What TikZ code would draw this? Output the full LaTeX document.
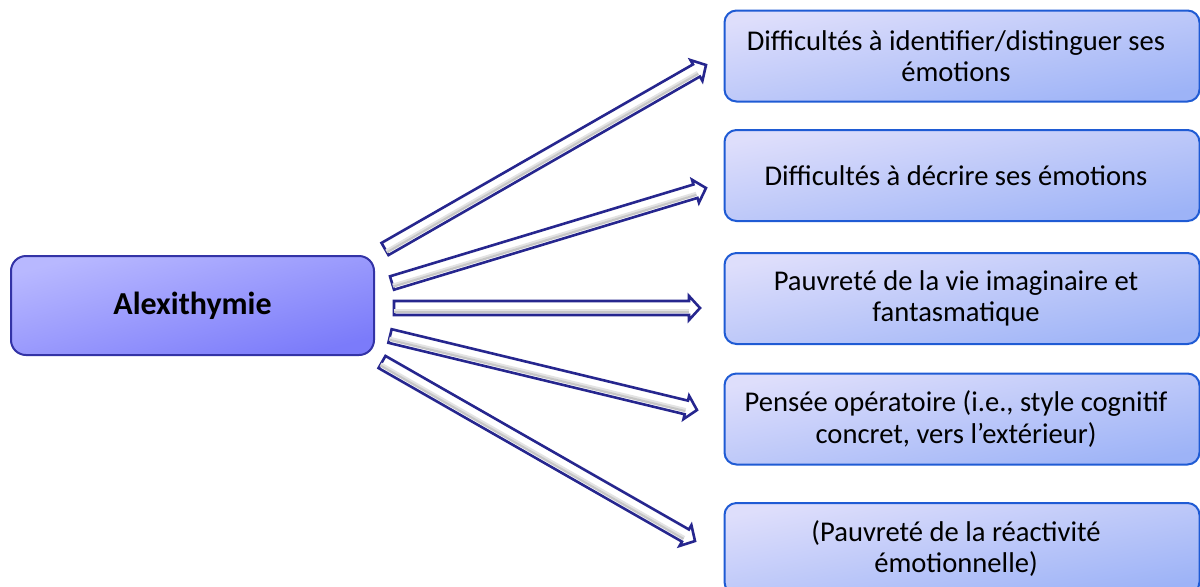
\documentclass[tikz,border=0pt]{standalone}
\usepackage{fontspec}
\setmainfont{Carlito}
\usetikzlibrary{calc}
\definecolor{leftA}{HTML}{B8B8FF}
\definecolor{leftB}{HTML}{7B7BFA}
\definecolor{leftBorder}{HTML}{3333A6}
\definecolor{boxA}{HTML}{DEDEFB}
\definecolor{boxB}{HTML}{9DB3F7}
\definecolor{boxBorder}{HTML}{1F5BD4}
\definecolor{arrNavy}{HTML}{26268E}
\newcommand{\rpad}{\hspace*{6pt}}
\newcommand{\blockarrow}[2]{%
  \coordinate (bA) at ($(#2)!5.5pt!(#1)$);
  \draw[arrowbody] ($(#1)!3.5pt!90:(#2)$) -- ($(bA)!3.5pt!90:(#2)$) -- ($(bA)!6pt!90:(#2)$) -- (#2) -- ($(bA)!6pt!-90:(#2)$) -- ($(bA)!3.5pt!-90:(#2)$) -- ($(#1)!3.5pt!-90:(#2)$) -- cycle;
  \draw[gray!22, line width=1.1pt] ($(#1)!0.9pt!-90:(#2)$) -- ($(bA)!0.9pt!-90:(#2)$);
  \draw[gray!45, line width=1.1pt] ($(#1)!1.9pt!-90:(#2)$) -- ($(bA)!1.9pt!-90:(#2)$);
}
\begin{document}
\begin{tikzpicture}[x=0.5pt,y=-0.5pt,
  mainbox/.style={rounded corners=7.5pt, draw=leftBorder, line width=1pt,
    top color=leftA, bottom color=leftB, shading angle=15,
    minimum width=181.5pt, minimum height=49.5pt, inner sep=0pt,
    font=\fontsize{16}{19}\selectfont\bfseries},
  itembox/.style={rounded corners=6pt, draw=boxBorder, line width=1pt,
    top color=boxA, bottom color=boxB, shading angle=11,
    minimum width=237.5pt, minimum height=45.5pt, inner sep=0pt,
    align=center, font=\fontsize{14.3}{15.6}\selectfont},
  arrowbody/.style={draw=arrNavy, line width=1.3pt, fill=white, line join=miter},
]
\useasboundingbox (0,0) rectangle (1200,586);
\clip (0,0) rectangle (1200,586);

\node[mainbox] (alex) at (192.5,305.5) {Alexithymie};

\node[itembox] (d1) at (962,56) {Difficultés à identifier/distinguer ses\rpad\\émotions\rpad};
\node[itembox] (d2) at (962,175.5) {Difficultés à décrire ses émotions\rpad};
\node[itembox] (d3) at (962,298.5) {Pauvreté de la vie imaginaire et\rpad\\fantasmatique\rpad};
\node[itembox] (d4) at (962,419) {Pensée opératoire (i.e., style cognitif\rpad\\concret, vers l’extérieur)\rpad};
\node[itembox] (d5) at (962,548.5) {(Pauvreté de la réactivité\rpad\\émotionnelle)\rpad};

\coordinate (s1) at (385,249);
\coordinate (s2) at (392,283);
\coordinate (s3) at (394,308);
\coordinate (s4) at (390,336);
\coordinate (s5) at (382,362);
\coordinate (e1) at (706,65);
\coordinate (e2) at (706,188);
\coordinate (e3) at (700,308);
\coordinate (e4) at (697,410);
\coordinate (e5) at (695,541);

\blockarrow{s1}{e1}
\blockarrow{s2}{e2}
\blockarrow{s3}{e3}
\blockarrow{s4}{e4}
\blockarrow{s5}{e5}
\end{tikzpicture}
\end{document}
